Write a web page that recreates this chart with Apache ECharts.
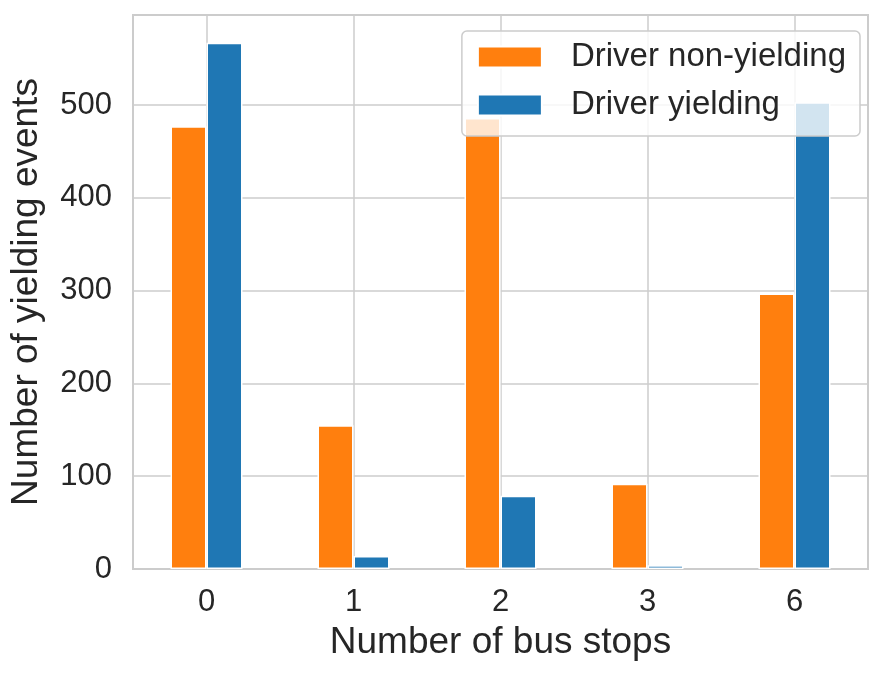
<!DOCTYPE html>
<html>
<head>
<meta charset="utf-8">
<script src="https://cdn.jsdelivr.net/npm/echarts@6/dist/echarts.min.js"></script>
<style>html,body{margin:0;padding:0;background:#fff}#c{width:891px;height:677px}</style>
</head>
<body>
<div id="c"></div>
<script>
const categories = ['0', '1', '2', '3', '6'];
const nonYielding = [477, 155, 486, 92, 297];
const yielding = [567, 14, 79, 4, 503];
const seriesNames = ['Driver non-yielding', 'Driver yielding'];
const xTitle = 'Number of bus stops';
const yTitle = 'Number of yielding events';

const font = '"Liberation Sans", Arial, sans-serif';
const txt = '#262626';
const chart = echarts.init(document.getElementById('c'), null, {renderer: 'canvas'});
chart.setOption({
  backgroundColor: '#fff',
  animation: false,
  grid: {left: 133, right: 23, top: 15, bottom: 108, show: true, borderColor: '#cccccc', borderWidth: 2, containLabel: false},
  legend: {
    data: seriesNames,
    orient: 'vertical',
    right: 31, top: 31,
    padding: [9, 14, 14, 15],
    itemWidth: 64, itemHeight: 21, itemGap: 14,
    backgroundColor: 'rgba(255,255,255,0.8)',
    borderColor: '#cccccc', borderWidth: 1.5, borderRadius: 5,
    icon: 'rect',
    textStyle: {fontFamily: font, fontSize: 33, color: txt, padding: [0, 0, 0, 24], lineHeight: 34}
  },
  xAxis: {
    type: 'category', data: categories,
    name: xTitle, nameLocation: 'middle', nameGap: 55,
    nameTextStyle: {fontFamily: font, fontSize: 37, color: txt},
    axisLine: {show: false}, axisTick: {show: false},
    axisLabel: {fontFamily: font, fontSize: 31, color: txt, margin: 18},
    splitLine: {show: true, alignWithLabel: true, lineStyle: {color: '#cccccc', width: 1.5}}
  },
  yAxis: {
    type: 'value', min: 0, max: 597, interval: 100,
    name: yTitle, nameLocation: 'middle', nameGap: 88,
    nameTextStyle: {fontFamily: font, fontSize: 37, color: txt},
    axisLine: {show: false}, axisTick: {show: false},
    axisLabel: {fontFamily: font, fontSize: 31, color: txt, margin: 21,
      formatter: v => (v % 100 === 0 ? String(v) : '')},
    splitLine: {show: true, lineStyle: {color: '#cccccc', width: 1.5}}
  },
  series: [
    {name: seriesNames[0], type: 'bar', data: nonYielding, barWidth: 36, barGap: '0%',
     itemStyle: {color: '#ff7f0e', borderColor: '#ffffff', borderWidth: 1.5}},
    {name: seriesNames[1], type: 'bar', data: yielding, barWidth: 36, barGap: '0%',
     itemStyle: {color: '#1f77b4', borderColor: '#ffffff', borderWidth: 1.5}}
  ]
});
</script>
</body>
</html>
